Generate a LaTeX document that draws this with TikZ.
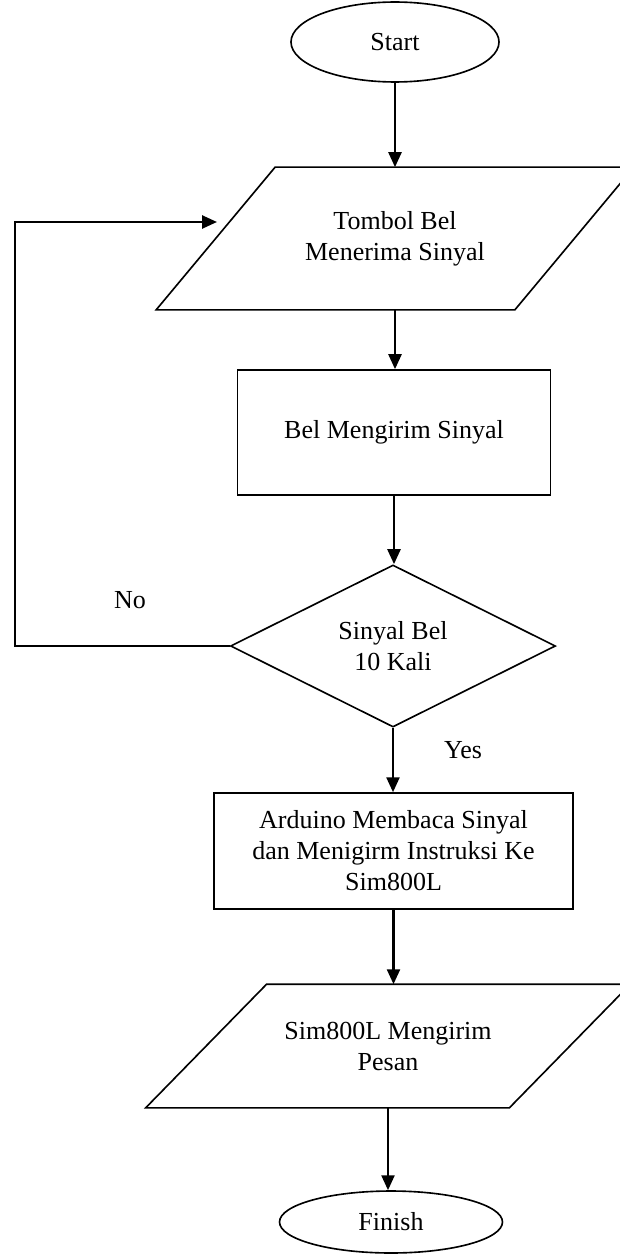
\documentclass[tikz,border=0pt]{standalone}
\usepackage{fontspec}
\setmainfont{Liberation Serif}
\usetikzlibrary{shapes.geometric,arrows.meta}
\tikzset{
  every node/.style={font=\fontsize{12}{14.3}\selectfont, align=center},
  term/.style={draw, ellipse, line width=0.75pt},
  io/.style={rectangle, line width=0.75pt},
  proc/.style={draw, rectangle, line width=0.75pt},
  decision/.style={draw, diamond, shape aspect=2, inner sep=0pt, line width=0.75pt},
  arr/.style={-{Triangle[length=6.9pt,width=6pt]}, line width=1.1pt}
}
\begin{document}
\begin{tikzpicture}[x=0.4615pt, y=-0.4615pt]
\useasboundingbox (0,0) rectangle (620,1257);
\node[term, minimum width=96pt, minimum height=36.9pt] (start) at (395,42) {Start};
\node[io, minimum width=219.7pt, minimum height=65.1pt] (in1) at (395,238.5) {Tombol Bel\\Menerima Sinyal};
\node[proc, minimum width=144.5pt, minimum height=57.7pt] (proc1) at (394,432.5) {Bel Mengirim Sinyal};
\node[decision, minimum width=150pt, minimum height=74.8pt] (dec) at (393,646) {Sinyal Bel\\10 Kali};
\node[proc, minimum width=165.7pt, minimum height=53.5pt] (proc2) at (393.5,851) {Arduino Membaca Sinyal\\dan Menigirm Instruksi Ke\\Sim800L};
\node[io, minimum width=222.9pt, minimum height=56.3pt] (in2) at (388,1046) {Sim800L Mengirim\\Pesan};
\node[term, minimum width=102.9pt, minimum height=28.6pt] (finish) at (391,1222) {Finish};
\node (no) at (130,600) {No};
\node (yes) at (463,750) {Yes};
% slanted input boxes
\foreach \n/\d in {in1/54.9pt, in2/55.8pt}
  \draw[line width=0.75pt] ([xshift=\d]\n.north west) -- (\n.north east)
    -- ([xshift=-\d]\n.south east) -- (\n.south west) -- cycle;
% main flow
\foreach \a/\b in {start/in1, in1/proc1, proc1/dec, dec/proc2, proc2/in2, in2/finish}
  \draw[arr] (\a.south) -- (\a.south |- \b.north);
% loop back
\coordinate (corner) at (15,646);
\coordinate (loopin) at (217,222);
\draw[arr] (dec.west) -- (corner) |- (loopin);
\end{tikzpicture}
\end{document}
